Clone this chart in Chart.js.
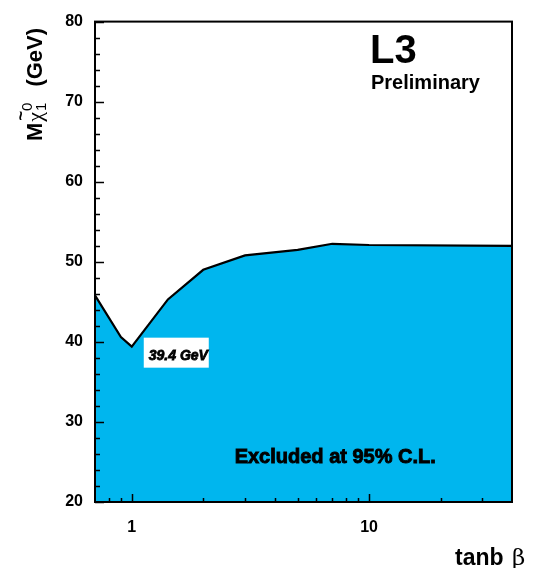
<!DOCTYPE html>
<html>
<head>
<meta charset="utf-8">
<script src="https://cdn.jsdelivr.net/npm/chart.js@4.4.0/dist/chart.umd.min.js"></script>
<style>
html,body{margin:0;padding:0;background:#fff;}
#c{display:block;}
</style>
</head>
<body>
<canvas id="c" width="538" height="568"></canvas>
<script>
// ---- data ----
const tanBeta = [0.7, 0.9, 1.0, 1.42, 2.0, 3.0, 5.0, 7.0, 10.0, 40.0];
const massLimit = [45.8, 40.6, 39.4, 45.3, 49.0, 50.8, 51.5, 52.25, 52.1, 52.0];
const xTickLabels = [1, 10];
const xMinorTicks = [0.8, 0.9, 2, 3, 4, 5, 6, 7, 8, 9, 20, 30];
const yTickLabels = [20, 30, 40, 50, 60, 70, 80];
const minLabel = "39.4 GeV";
const minPoint = {x: 1.0, y: 39.4};
const excludedText = "Excluded at 95% C.L.";
const excludedPos = {x: 7.2, y: 25.6};

const FONT = "'Liberation Sans', Arial, Helvetica, sans-serif";

const decor = {
  id: 'decor',
  afterDatasetsDraw(chart) {
    const ctx = chart.ctx;
    const a = chart.chartArea;
    const xs = chart.scales.x, ys = chart.scales.y;
    ctx.save();
    // frame
    ctx.strokeStyle = '#000';
    ctx.lineWidth = 2;
    ctx.strokeRect(a.left, a.top, a.right - a.left, a.bottom - a.top);
    // y ticks (inward)
    ctx.lineWidth = 1.5;
    ctx.beginPath();
    for (let v = 20; v <= 80; v += 2) {
      const py = Math.round(ys.getPixelForValue(v)) + 0.5;
      const len = (v % 10 === 0) ? 9 : 5;
      ctx.moveTo(a.left, py);
      ctx.lineTo(a.left + len, py);
    }
    // x ticks (inward)
    xTickLabels.forEach(v => {
      const px = Math.round(xs.getPixelForValue(v)) + 0.5;
      ctx.moveTo(px, a.bottom);
      ctx.lineTo(px, a.bottom - 8);
    });
    xMinorTicks.forEach(v => {
      const px = Math.round(xs.getPixelForValue(v)) + 0.5;
      ctx.moveTo(px, a.bottom);
      ctx.lineTo(px, a.bottom - 4);
    });
    ctx.stroke();

    // minimum label box
    const mx = xs.getPixelForValue(minPoint.x);
    const my = ys.getPixelForValue(minPoint.y);
    ctx.fillStyle = '#fff';
    ctx.fillRect(mx + 12, my - 9, 65, 30);
    ctx.fillStyle = '#000';
    ctx.font = "italic bold 14px " + FONT;
    ctx.textBaseline = 'alphabetic';
    ctx.textAlign = 'left';
    ctx.lineWidth = 0.8;
    ctx.strokeStyle = '#000';
    ctx.fillText(minLabel, mx + 17, my + 13);
    ctx.strokeText(minLabel, mx + 17, my + 13);

    // excluded text
    const ex = xs.getPixelForValue(excludedPos.x);
    const ey = ys.getPixelForValue(excludedPos.y);
    ctx.font = "bold 20px " + FONT;
    ctx.textAlign = 'center';
    ctx.textBaseline = 'middle';
    ctx.lineWidth = 0.9;
    ctx.fillText(excludedText, ex, ey);
    ctx.strokeText(excludedText, ex, ey);

    // L3 Preliminary
    ctx.textAlign = 'left';
    ctx.textBaseline = 'alphabetic';
    ctx.font = "bold 40px " + FONT;
    ctx.fillText("L3", 370, 63);
    ctx.font = "bold 20px " + FONT;
    ctx.fillText("Preliminary", 371, 89);

    // x title
    ctx.font = "bold 23px " + FONT;
    ctx.textAlign = 'left';
    ctx.fillText("tanb", 455, 565);
    ctx.font = "23px 'DejaVu Serif', 'Liberation Serif', serif";
    ctx.fillText("\u03B2", 512, 565);

    // y title (rotated)
    ctx.translate(42, 141);
    ctx.rotate(-Math.PI / 2);
    ctx.textAlign = 'left';
    ctx.font = "bold 22px " + FONT;
    ctx.fillText("M", 0, 0);
    let w = ctx.measureText("M").width;
    ctx.font = "22px 'Liberation Serif', 'DejaVu Serif', serif";
    ctx.fillText("\u03C7", w + 1, 0);
    const cw = ctx.measureText("\u03C7").width;
    ctx.font = "bold 17px " + FONT;
    ctx.fillText("~", w + 2, -16);
    ctx.font = "15px " + FONT;
    ctx.fillText("0", w + cw + 2, -10);
    ctx.fillText("1", w + cw + 2, 4);
    const sw = ctx.measureText("0").width;
    ctx.font = "bold 22px " + FONT;
    ctx.fillText("(GeV)", w + cw + sw + 18, 0);
    ctx.restore();
  }
};

new Chart(document.getElementById('c'), {
  type: 'line',
  data: {
    datasets: [{
      data: tanBeta.map((x, i) => ({x: x, y: massLimit[i]})),
      borderColor: '#000',
      borderWidth: 2.2,
      backgroundColor: 'rgb(0,182,238)',
      fill: 'start',
      pointRadius: 0,
      tension: 0
    }]
  },
  options: {
    responsive: false,
    animation: false,
    devicePixelRatio: 1,
    layout: {padding: {top: 18, right: 26, left: 0, bottom: 0}},
    plugins: {legend: {display: false}, tooltip: {enabled: false}},
    scales: {
      x: {
        type: 'logarithmic',
        min: 0.7,
        max: 40,
        grid: {display: false, drawTicks: false},
        border: {display: false},
        afterBuildTicks: s => { s.ticks = xTickLabels.map(v => ({value: v})); },
        afterFit: s => { s.height = 66; },
        ticks: {
          autoSkip: false,
          maxRotation: 0,
          padding: 16,
          color: '#000',
          font: {family: FONT, weight: 'bold', size: 16},
          callback: v => String(v)
        }
      },
      y: {
        min: 20,
        max: 80,
        grid: {display: false, drawTicks: false},
        border: {display: false},
        afterBuildTicks: s => { s.ticks = yTickLabels.map(v => ({value: v})); },
        afterFit: s => { s.width = 95; },
        ticks: {
          padding: 12,
          color: '#000',
          font: {family: FONT, weight: 'bold', size: 16}
        }
      }
    }
  },
  plugins: [decor]
});
</script>
</body>
</html>
